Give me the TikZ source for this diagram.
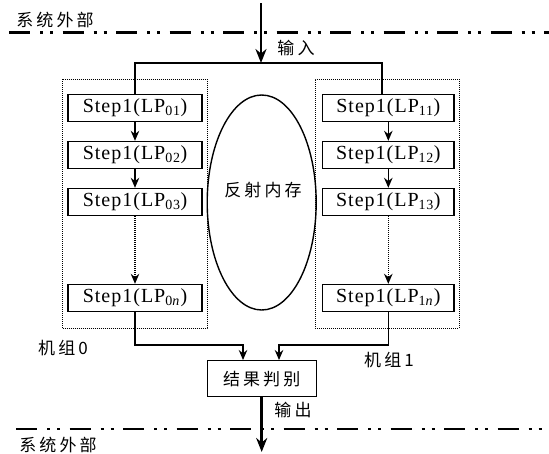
\documentclass[tikz,border=0pt]{standalone}
\usepackage{fontspec}
\setmainfont{Liberation Serif}
\newfontfamily\cjk{Noto Sans CJK SC}[LetterSpace=18]
\newfontfamily\stepfont{Liberation Serif}[LetterSpace=5]
\usetikzlibrary{arrows.meta,shapes.geometric}
\tikzset{
  stepbox/.style={draw, line width=1.4pt, minimum width=134pt, minimum height=27pt, inner sep=0pt,
    font=\stepfont\fontsize{20}{20}\selectfont},
  grpbox/.style={draw, line width=0.8pt, dash pattern=on 1pt off 1pt, inner sep=0pt},
  cjklabel/.style={font=\cjk\fontsize{17}{17}\selectfont, inner sep=0pt},
  smallarrow/.style={line width=1.3pt, -{Stealth[length=10pt,width=8.5pt]}},
  bigarrow/.style={line width=2.5pt, -{Stealth[length=14pt,width=11pt]}},
  dashdotline/.style={line width=2.8pt, dash pattern=on 21pt off 10pt on 3pt off 7pt on 3pt off 9.5pt},
  conn/.style={line width=1.3pt}
}
\begin{document}
\begin{tikzpicture}[x=1pt,y=-1pt]
\useasboundingbox (0,0) rectangle (549,453);
% dash-dot boundary lines
\coordinate (dlA) at (9,32.7);
\coordinate (dlB) at (549,32.7);
\coordinate (dlC) at (16,429);
\coordinate (dlD) at (549,429);
\draw[dashdotline] (dlA) -- (dlB);
\draw[dashdotline] (dlC) -- (dlD);
\node[cjklabel] (outTop) at (55,20) {系统外部};
\node[cjklabel] (outBot) at (58,445) {系统外部};
% groups
\node[grpbox, minimum width=144.3pt, minimum height=249pt] (G0) at (134.85,203.5) {};
\node[grpbox, minimum width=144pt, minimum height=249pt] (G1) at (387,203.5) {};
\node[cjklabel] (g0lab) at (63,348) {机组0};
\node[cjklabel] (g1lab) at (389,360) {机组1};
% step boxes
\node[stepbox] (L1) at (135,108) {Step1(LP\textsubscript{01})};
\node[stepbox] (L2) at (135,155) {Step1(LP\textsubscript{02})};
\node[stepbox] (L3) at (135,202) {Step1(LP\textsubscript{03})};
\node[stepbox] (Ln) at (135,298) {Step1(LP\textsubscript{0\textit{n}})};
\node[stepbox, minimum width=131.5pt] (R1) at (388.3,108) {Step1(LP\textsubscript{11})};
\node[stepbox, minimum width=131.5pt] (R2) at (388.3,155) {Step1(LP\textsubscript{12})};
\node[stepbox, minimum width=131.5pt] (R3) at (388.3,202) {Step1(LP\textsubscript{13})};
\node[stepbox, minimum width=131.5pt] (Rn) at (388.3,298) {Step1(LP\textsubscript{1\textit{n}})};
\draw[smallarrow] (L1) -- (L2);
\draw[smallarrow] (L2) -- (L3);
\draw[smallarrow, dash pattern=on 1pt off 1pt] (L3) -- (Ln);
\draw[smallarrow] (R1) -- (R2);
\draw[smallarrow] (R2) -- (R3);
\draw[smallarrow, dash pattern=on 1pt off 1pt] (R3) -- (Rn);
% reflective memory
\node[draw, ellipse, line width=1.4pt, minimum width=109pt, minimum height=215pt, inner sep=0pt] (mem) at (261.7,202.5) {};
\node[cjklabel] (memtxt) at (263,190) {反射内存};
% input
\coordinate (inTop) at (261,3);
\coordinate (inMid) at (261,63);
\coordinate (tl) at (135,63);
\coordinate (tr) at (382,63);
\draw[conn] (L1.north) -- (tl) -- (tr) -- (tr |- R1.north);
\draw[bigarrow] (inTop) -- (inMid);
\node[cjklabel] (inlab) at (296,48) {输入};
% result
\node[draw, line width=1.4pt, minimum width=109pt, minimum height=36pt, inner sep=0pt,
  font=\cjk\fontsize{17}{17}\selectfont] (res) at (261.7,378.7) {结果判别};
\coordinate (bl) at (243,345);
\coordinate (br) at (279,345);
\draw[conn, -{Stealth[length=10pt,width=8.5pt]}] (Ln.south) -- (Ln.south |- bl) -- (bl) -- (res.north -| bl);
\draw[conn, -{Stealth[length=10pt,width=8.5pt]}] (Rn.south) -- (Rn.south |- br) -- (br) -- (res.north -| br);
% output
\coordinate (outEnd) at (261.7,452);
\draw[bigarrow] (res.south) -- (outEnd);
\node[cjklabel] (outlab) at (293,410) {输出};
\end{tikzpicture}
\end{document}
